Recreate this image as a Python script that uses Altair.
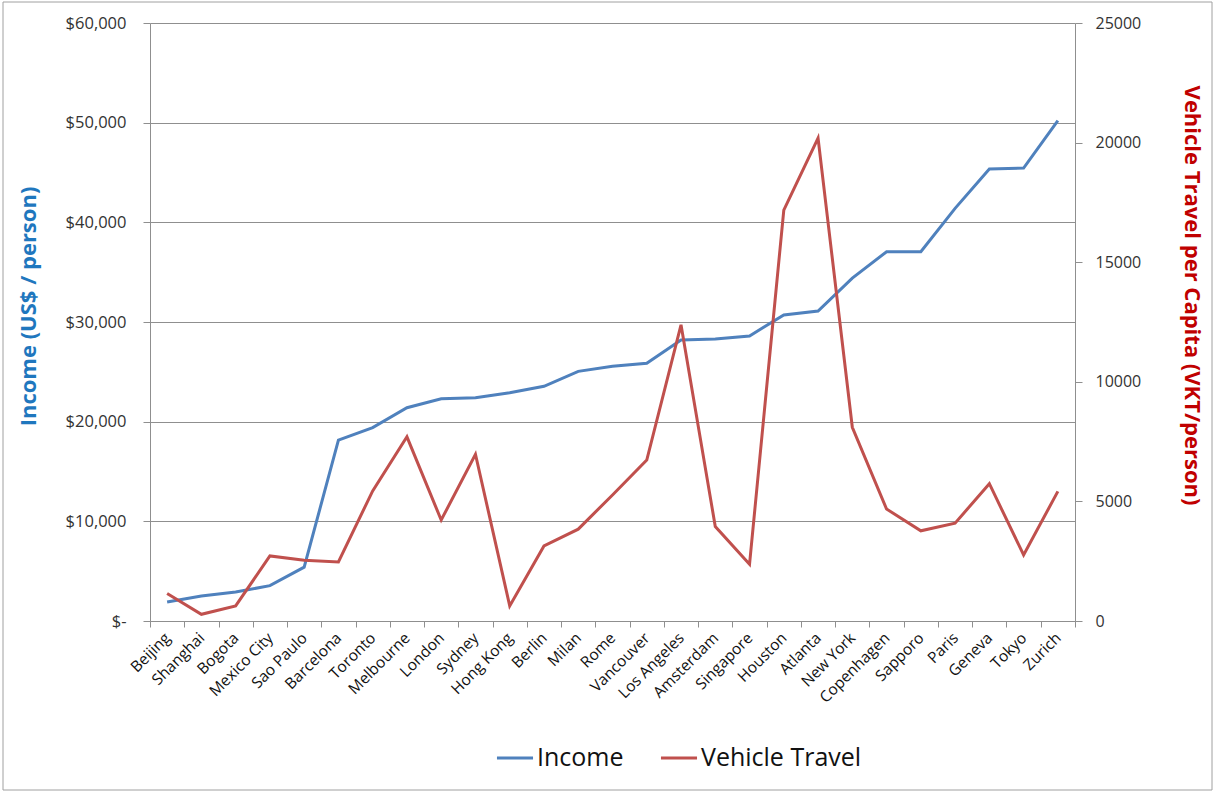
import altair as alt
import pandas as pd

# Cities ordered by income, with income and vehicle travel per capita
cities = [
    "Beijing", "Shanghai", "Bogota", "Mexico City", "Sao Paulo", "Barcelona",
    "Toronto", "Melbourne", "London", "Sydney", "Hong Kong", "Berlin", "Milan",
    "Rome", "Vancouver", "Los Angeles", "Amsterdam", "Singapore", "Houston",
    "Atlanta", "New York", "Copenhagen", "Sapporo", "Paris", "Geneva", "Tokyo",
    "Zurich",
]
income = [
    1900, 2500, 2900, 3550, 5400, 18150, 19400, 21400, 22300, 22400, 22900,
    23550, 25050, 25550, 25850, 28200, 28300, 28600, 30700, 31100, 34400,
    37050, 37050, 41400, 45350, 45450, 50200,
]
vkt = [
    1150, 280, 630, 2720, 2540, 2470, 5440, 7700, 4220, 6970, 630, 3140, 3840,
    5270, 6730, 12380, 3950, 2370, 17180, 20190, 8100, 4680, 3770, 4090, 5740,
    2760, 5420,
]
income_ticks = [0, 10000, 20000, 30000, 40000, 50000, 60000]
vkt_ticks = [0, 5000, 10000, 15000, 20000, 25000]
series = ["Income", "Vehicle Travel"]
series_colors = ["#4F81BD", "#C0504D"]

df = pd.DataFrame({"city": cities, "income": income, "vkt": vkt})

FONT = "Open Sans"
GRID = "#8f8f8f"

x_enc = alt.X(
    "city:N",
    sort=None,
    scale=alt.Scale(type="band", paddingInner=0, paddingOuter=0),
    axis=alt.Axis(
        title=None,
        labelAngle=-45,
        labelAlign="right",
        labelBaseline="middle",
        labelFontSize=15.5,
        labelColor="#111111",
        labelPadding=8,
        tickBand="extent",
        tickSize=6,
        tickColor=GRID,
        domainColor=GRID,
        grid=False,
    ),
)

color_scale = alt.Scale(domain=series, range=series_colors)

income_line = alt.Chart(df).mark_line(strokeWidth=3).encode(
    x=x_enc,
    y=alt.Y(
        "income:Q",
        scale=alt.Scale(domain=[0, 60000], nice=False),
        axis=alt.Axis(
            orient="left",
            title="Income (US$ / person)",
            titleColor="#1F77BE",
            titleFontSize=22,
            titleFontWeight="bold",
            titleX=-110,
            titleY=283,
            values=income_ticks,
            labelExpr="datum.value == 0 ? '$-' : '$' + format(datum.value, ',')",
            labelFontSize=16.5,
            labelColor="#333333",
            labelPadding=17,
            tickSize=7,
            tickColor=GRID,
            domainColor=GRID,
            gridColor=GRID,
            grid=True,
        ),
    ),
    color=alt.Color(
        "s:N",
        scale=color_scale,
        legend=alt.Legend(
            title=None,
            orient="none",
            legendX=345,
            legendY=715,
            direction="horizontal",
            symbolType="stroke",
            symbolSize=1300,
            symbolStrokeWidth=3,
            labelFontSize=25,
            labelLimit=400,
            labelColor="#111111",
            labelOffset=2,
            columnPadding=30,
        ),
    ),
).transform_calculate(s="'Income'")

vkt_line = alt.Chart(df).mark_line(strokeWidth=3).encode(
    x=x_enc,
    y=alt.Y(
        "vkt:Q",
        scale=alt.Scale(domain=[0, 25000], nice=False),
        axis=alt.Axis(
            orient="right",
            title="Vehicle Travel per Capita (VKT/person)",
            titleColor="#C00000",
            titleFontSize=22,
            titleFontWeight="bold",
            titleX=104,
            titleY=272,
            values=vkt_ticks,
            format="d",
            labelFontSize=16,
            labelColor="#333333",
            labelPadding=13,
            tickSize=7,
            tickColor=GRID,
            domainColor=GRID,
            grid=False,
        ),
    ),
    color=alt.Color("s:N", scale=color_scale),
).transform_calculate(s="'Vehicle Travel'")

# Thin frame around the whole figure
frame = alt.Chart(alt.Data(values=[{}])).mark_rect(
    fill="transparent", stroke="#a0a0a0", strokeWidth=1, clip=False
).encode(
    x=alt.value(-147), x2=alt.value(1062),
    y=alt.value(-21), y2=alt.value(767),
)

chart = (
    alt.layer(income_line, vkt_line, frame)
    .resolve_scale(y="independent")
    .properties(
        width=925,
        height=598,
        autosize=alt.AutoSizeParams(type="none"),
        padding={"left": 150, "top": 23, "right": 140, "bottom": 172},
        background="white",
    )
    .configure_view(stroke=None)
    .configure_axis(labelFont=FONT, titleFont=FONT)
    .configure_legend(labelFont=FONT)
)

chart.save("out.html", embed_options={"renderer": "svg", "actions": False})
